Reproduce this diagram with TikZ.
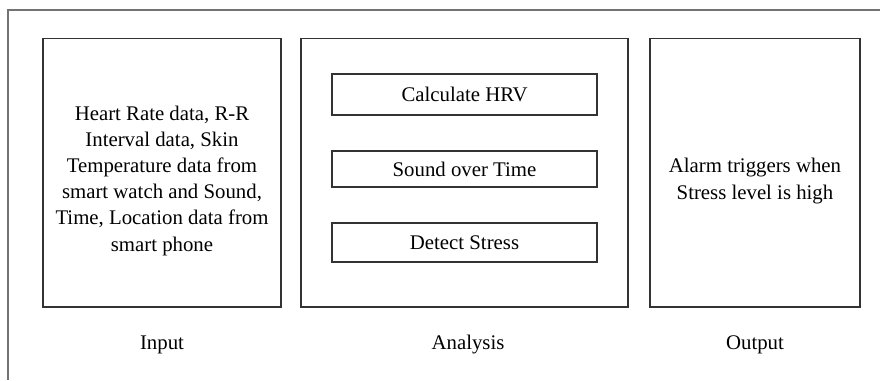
\documentclass[tikz,border=0pt]{standalone}
\usepackage{fontspec}
\setmainfont{Liberation Serif}
\begin{document}
\begin{tikzpicture}[x=1pt,y=-1pt,
  panel/.style={draw=black!80, line width=1.3pt},
  stepbox/.style={draw=black!80, line width=1.3pt},
  txt/.style={font=\fontsize{20.8}{26.2}\selectfont, align=center, inner sep=0pt},
]
\useasboundingbox (0,0) rectangle (880,380);
\draw[black!55, line width=1.8pt] (8,380) -- (8,10) -- (880,10);
% panels
\draw[panel] (43,38.5) rectangle (281,307);
\draw[panel] (301,38.5) rectangle (628,307);
\draw[panel] (650,38.5) rectangle (860,307);
% analysis steps
\node[stepbox, minimum width=265pt, minimum height=41pt, inner sep=0pt, txt] (hrv) at (464.5,94.5) {Calculate HRV};
\node[stepbox, minimum width=265pt, minimum height=36pt, inner sep=0pt, txt] (sound) at (464.5,169) {Sound over Time};
\node[stepbox, minimum width=265pt, minimum height=39pt, inner sep=0pt, txt] (detect) at (464.5,242.5) {Detect Stress};
% texts
\node[txt] (intext) at (162,180.5) {Heart Rate data, R-R\\Interval data, Skin\\Temperature data from\\smart watch and Sound,\\Time, Location data from\\smart phone};
\node[txt] (outtext) at (755,181) {Alarm triggers when\\Stress level is high};
% labels
\node[txt] (lin) at (162,345) {Input};
\node[txt] (lan) at (468,345) {Analysis};
\node[txt] (lout) at (755,345) {Output};
\end{tikzpicture}
\end{document}
